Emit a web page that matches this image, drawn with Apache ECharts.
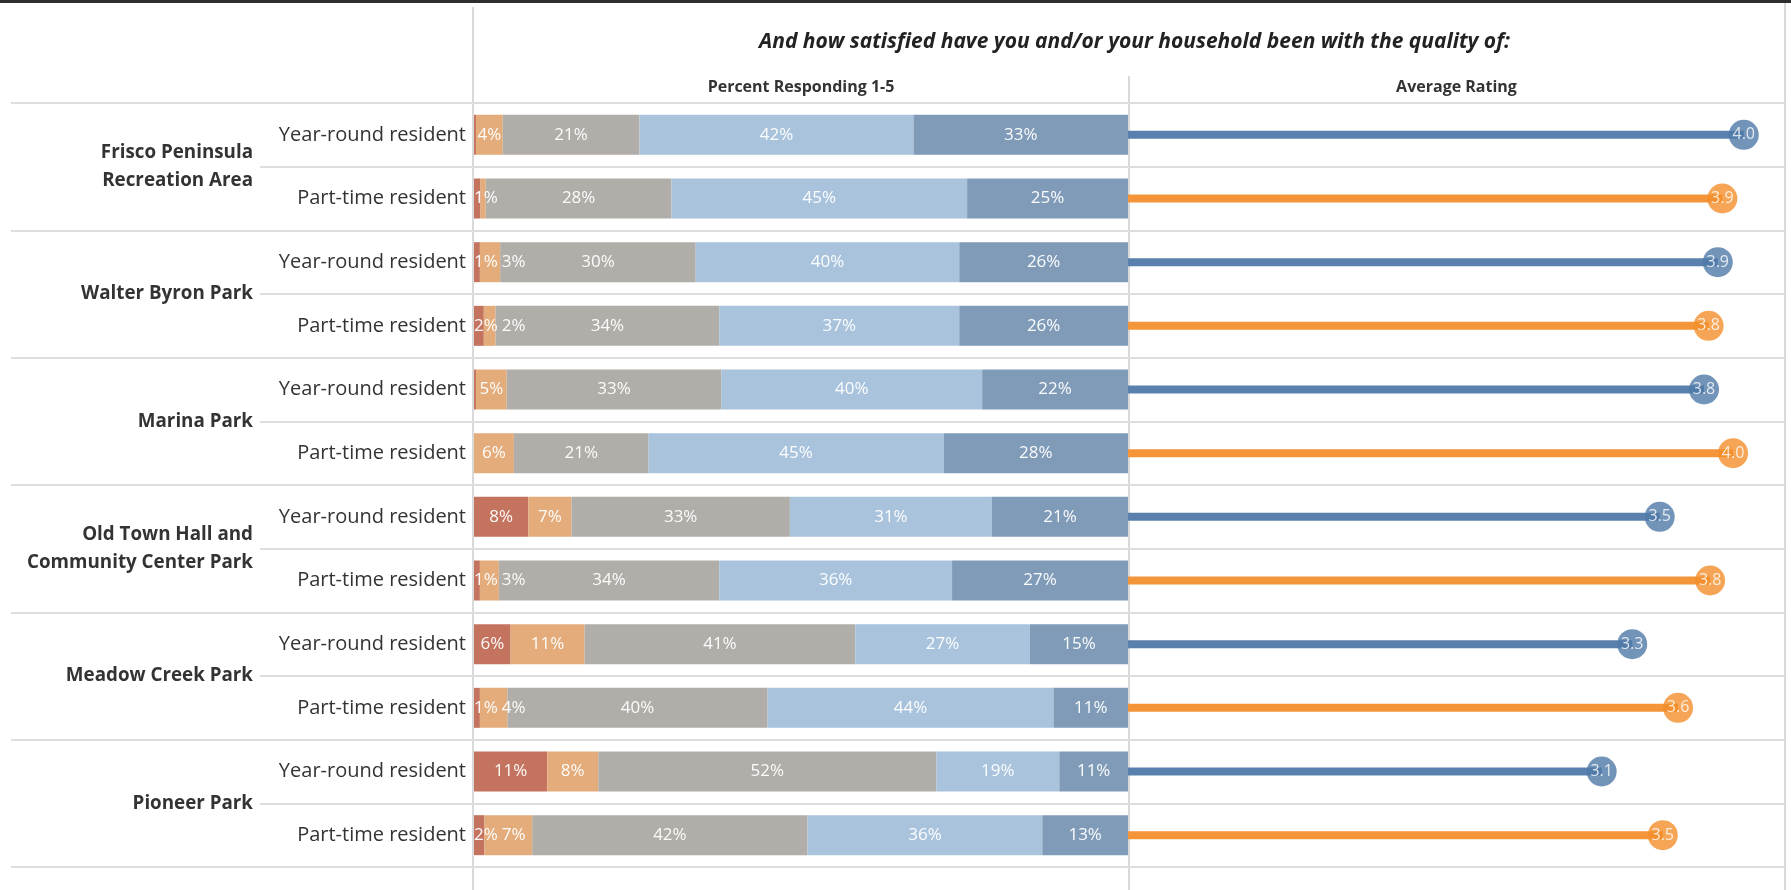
<!DOCTYPE html>
<html>
<head>
<meta charset="utf-8">
<script src="https://cdn.jsdelivr.net/npm/echarts@6/dist/echarts.min.js"></script>
<style>
html,body{margin:0;padding:0;background:#fff;}
#chart{width:1791px;height:890px;}
</style>
</head>
<body>
<div id="chart"></div>
<script>
// ---------------- DATA ----------------
const title = 'And how satisfied have you and/or your household been with the quality of:';
const parks = ['Frisco Peninsula\nRecreation Area', 'Walter Byron Park', 'Marina Park',
  'Old Town Hall and\nCommunity Center Park', 'Meadow Creek Park', 'Pioneer Park'];
const residentTypes = ['Year-round resident', 'Part-time resident'];
const responseLevels = ['1', '2', '3', '4', '5'];
// percent responding each level, one value per park x resident type (row order top to bottom)
const level1 = [0.3, 1.0, 0.9, 1.5, 0.3, 0.0, 8.3, 0.9, 5.6, 0.9, 11.2, 1.6];
const level2 = [4.1, 0.8, 3.1, 1.8, 4.7, 6.1, 6.6, 2.9, 11.3, 4.2, 7.8, 7.3];
const level3 = [20.9, 28.4, 29.9, 34.2, 32.8, 20.6, 33.4, 33.7, 41.4, 39.8, 51.7, 42.1];
const level4 = [41.9, 45.2, 40.3, 36.7, 39.9, 45.1, 30.9, 35.6, 26.7, 43.7, 18.8, 35.9];
const level5 = [32.8, 24.6, 25.8, 25.8, 22.3, 28.2, 20.8, 26.9, 15.0, 11.4, 10.5, 13.1];
const averageRating = [4.03, 3.89, 3.86, 3.80, 3.77, 3.96, 3.48, 3.81, 3.30, 3.60, 3.10, 3.50];
const headerLeft = 'Percent Responding 1-5';
const headerRight = 'Average Rating';

// ---------------- STYLE / LAYOUT ----------------
const FONT = 'Open Sans';
const levelColors = ['#c4735f', '#e3ac7a', '#b1ada8', '#a9c3dc', '#7f9bb8'];
const typeLineColors = ['#5a81ad', '#f39538'];
const typeDotColors = ['#4f79a7', '#f28e2b'];
const gridLine = '#dedede';
const LAY = { outerLeft: 11, innerLeft: 260, barLeft: 474, barRight: 1128, right: 1785, top: 103, bottom: 867 };

const levels = [level1, level2, level3, level4, level5];
const rows = [];
parks.forEach((p, i) => residentTypes.forEach((t, j) => rows.push(i + '|' + j)));
const rowType = rows.map(r => +r.split('|')[1]);

const H = LAY.bottom - LAY.top;
const labelRights = {};
const GAP = 4;

const barSeries = levels.map((arr, li) => ({
  type: 'bar', name: responseLevels[li], stack: 'pct',
  xAxisIndex: 2, yAxisIndex: 3, barWidth: 40,
  itemStyle: { color: levelColors[li] },
  data: arr.map(v => ({ value: v, label: { show: v >= 0.9 } })),
  label: {
    position: 'inside', color: 'rgba(255,255,255,0.96)', fontFamily: FONT, fontSize: 17,
    formatter: p => Math.round(p.value) + '%'
  },
  labelLayout: function (p) {
    const di = p.dataIndex, si = li;
    if (!labelRights[di]) labelRights[di] = {};
    let minLeft;
    if (si === 0) minLeft = p.rect.x;
    else {
      minLeft = -Infinity;
      for (let s = 0; s < si; s++) {
        const r = labelRights[di][s];
        if (r !== undefined && r !== null) minLeft = Math.max(minLeft, r + GAP);
      }
      minLeft = Math.max(minLeft, LAY.barLeft);
    }
    const left = p.labelRect.x;
    let dx = 0;
    if (left < minLeft) dx = minLeft - left;
    labelRights[di][si] = left + dx + p.labelRect.width;
    return { dx: dx };
  }
}));

const chart = echarts.init(document.getElementById('chart'), null, { renderer: 'canvas' });

const headerStyle = { fontFamily: FONT, fontSize: 16, fontWeight: 'bold', color: '#333' };

const option = {
  animation: false,
  backgroundColor: '#fff',
  title: {
    text: title, left: (LAY.barLeft + LAY.right) / 2, top: 27, textAlign: 'center',
    textStyle: { fontFamily: FONT, fontSize: 21, fontWeight: 'bold', fontStyle: 'italic', color: '#222' }
  },
  grid: [
    { left: LAY.outerLeft, top: LAY.top, width: LAY.right - LAY.outerLeft, height: H },
    { left: LAY.innerLeft, top: LAY.top, width: LAY.right - LAY.innerLeft, height: H },
    { left: LAY.barLeft, top: LAY.top, width: LAY.barRight - LAY.barLeft, height: H },
    { left: LAY.barRight, top: LAY.top, width: LAY.right - LAY.barRight, height: H }
  ],
  xAxis: [
    { gridIndex: 0, type: 'value', show: false },
    { gridIndex: 1, type: 'value', show: false },
    { gridIndex: 2, type: 'value', min: 0, max: 100, position: 'top',
      axisLine: { show: false }, axisTick: { show: false }, axisLabel: { show: false }, splitLine: { show: false },
      name: headerLeft, nameLocation: 'middle', nameGap: 8, nameTextStyle: headerStyle },
    { gridIndex: 3, type: 'value', min: 0, max: 4.3, position: 'top',
      axisLine: { show: false }, axisTick: { show: false }, axisLabel: { show: false }, splitLine: { show: false },
      name: headerRight, nameLocation: 'middle', nameGap: 8, nameTextStyle: headerStyle }
  ],
  yAxis: [
    { gridIndex: 0, type: 'category', data: parks, inverse: true,
      axisLine: { show: false }, axisTick: { show: false }, axisLabel: { show: false },
      splitLine: { show: true, interval: 0, lineStyle: { color: gridLine, width: 2 } } },
    { gridIndex: 1, type: 'category', data: rows, inverse: true, position: 'right',
      axisLine: { show: false }, axisTick: { show: false }, axisLabel: { show: false },
      splitLine: { show: true, interval: 0, lineStyle: { color: gridLine, width: 2 } } },
    { gridIndex: 1, type: 'category', data: parks, inverse: true, position: 'left',
      axisLine: { show: false }, axisTick: { show: false }, splitLine: { show: false },
      axisLabel: { show: true, interval: 0, margin: 7, fontFamily: FONT, fontSize: 18.8, fontWeight: 'bold',
        color: '#333', lineHeight: 28.5, align: 'right' } },
    { gridIndex: 2, type: 'category', data: rows, inverse: true,
      axisLine: { show: false }, axisTick: { show: false }, splitLine: { show: false },
      axisLabel: { show: true, interval: 0, margin: 8, fontFamily: FONT, fontSize: 20, color: '#333',
        formatter: v => residentTypes[+v.split('|')[1]] } },
    { gridIndex: 3, type: 'category', data: rows, inverse: true, show: false }
  ],
  series: barSeries.concat([
    { type: 'bar', name: 'stick', xAxisIndex: 3, yAxisIndex: 4, barWidth: 8, z: 2,
      data: averageRating.map((v, i) => ({ value: v, itemStyle: { color: typeLineColors[rowType[i]] } })) },
    { type: 'scatter', name: 'avg', xAxisIndex: 3, yAxisIndex: 4, symbolSize: 30, z: 3,
      data: averageRating.map((v, i) => ({ value: [v, i], itemStyle: { color: typeDotColors[rowType[i]] } })),
      label: { show: true, position: 'inside', color: '#fff', fontFamily: FONT, fontSize: 16,
        formatter: p => p.value[0].toFixed(1) } }
  ]),
  graphic: [
    { type: 'rect', shape: { x: 0, y: 0, width: 1791, height: 3 }, style: { fill: '#2f2f2f' }, z: 10 },
    { type: 'line', shape: { x1: 473, y1: 7, x2: 473, y2: 890 }, style: { stroke: '#d9d9d9', lineWidth: 2 }, z: 0 },
    { type: 'line', shape: { x1: 1129, y1: 76, x2: 1129, y2: 890 }, style: { stroke: '#d9d9d9', lineWidth: 2 }, z: 0 },
    { type: 'line', shape: { x1: 1785, y1: 3, x2: 1785, y2: 890 }, style: { stroke: '#d9d9d9', lineWidth: 2 }, z: 0 }
  ]
};
chart.setOption(option);
</script>
</body>
</html>
